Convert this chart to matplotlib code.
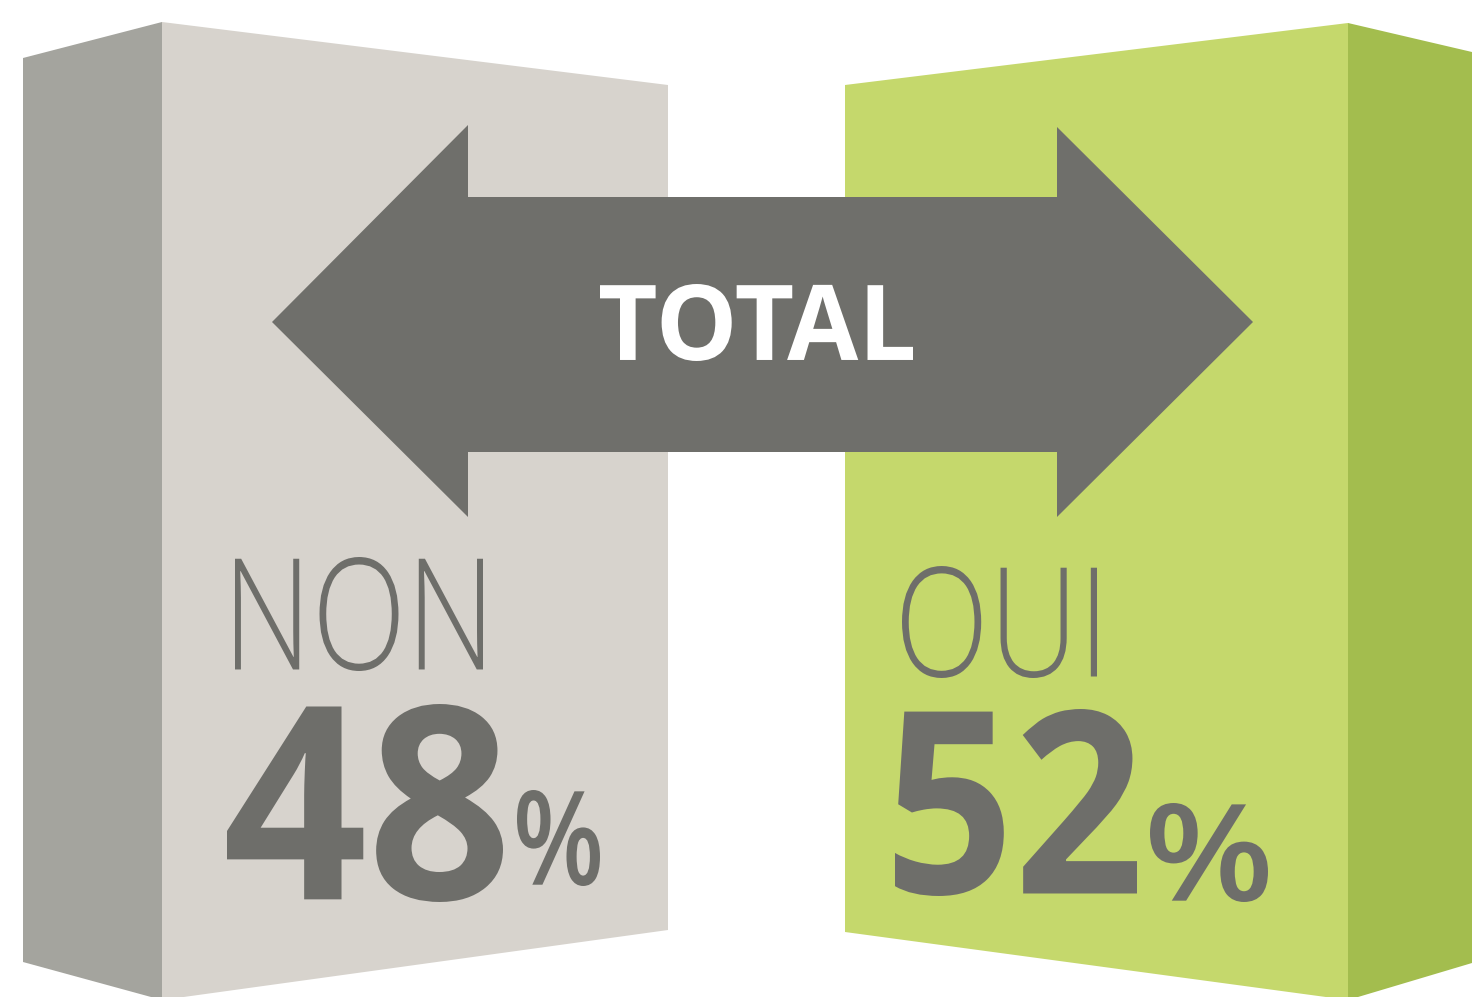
import matplotlib
matplotlib.use("Agg")
import matplotlib.pyplot as plt
from matplotlib.patches import Polygon
from matplotlib.font_manager import FontProperties
from matplotlib.textpath import TextPath
from matplotlib.transforms import Affine2D
from matplotlib import patheffects

# chart data
categories = ["NON", "OUI"]
values = [48, 52]
title = "TOTAL"

# colours
side_cols = ["#a4a49e", "#a3bd4e"]
front_cols = ["#d7d3cd", "#c5d86c"]
arrow_col = "#6f6f6b"
text_col = "#6e6e6a"


class Squeeze(patheffects.AbstractPathEffect):
	# narrows the glyphs horizontally around a fixed x (data coords)
	def __init__(self, ax, sx, xa):
		super().__init__()
		self.ax = ax
		self.sx = sx
		self.xa = xa

	def draw_path(self, renderer, gc, tpath, affine, rgbFace=None):
		a = self.ax.transData.transform((self.xa, 0))[0]
		squeeze = Affine2D().translate(-a, 0).scale(self.sx, 1).translate(a, 0)
		renderer.draw_path(gc, tpath, affine + squeeze, rgbFace)


fig = plt.figure(figsize=(14.72, 9.97), dpi=100)
ax = fig.add_axes([0, 0, 1, 1])
ax.set_xlim(0, 1472)
ax.set_ylim(997, 0)
ax.axis("off")


def place(s, box, weight, color, anchor=0.0, family="Open Sans"):
	# fit the ink of s into box = (left, top, right, bottom) in pixels,
	# squeezing around the point at fraction `anchor` of the width
	x0, y0, x1, y1 = box
	fp = FontProperties(family=family, weight=weight)
	ext = TextPath((0, 0), s, size=100, prop=fp).get_extents()
	scale = (y1 - y0) / ext.height
	wu = ext.width * scale
	sx = (x1 - x0) / wu
	xa = x0 + anchor * (x1 - x0)
	fp.set_size(100 * scale * 72 / fig.dpi)
	ax.text(xa - anchor * wu - ext.x0 * scale, y1 + ext.y0 * scale, s, fontproperties=fp,
			color=color, ha="left", va="baseline", path_effects=[Squeeze(ax, sx, xa)])


# boxes (left: side face on the left, right: side face on the right)
left_side = [(23, 58), (162, 22), (162, 1000), (23, 962)]
left_front = [(162, 22), (668, 85), (668, 930), (162, 1000)]
right_front = [(845, 85), (1348, 23), (1348, 1000), (845, 932)]
right_side = [(1348, 23), (1472, 52), (1472, 963), (1348, 1000)]
for pts, col in [(left_side, side_cols[0]), (left_front, front_cols[0]),
				 (right_front, front_cols[1]), (right_side, side_cols[1])]:
	ax.add_patch(Polygon(pts, closed=True, facecolor=col, edgecolor="none"))

# double arrow
arrow = [(272, 322), (468, 125), (468, 197), (1057, 197), (1057, 127), (1253, 322),
		 (1057, 517), (1057, 452), (468, 452), (468, 517)]
ax.add_patch(Polygon(arrow, closed=True, facecolor=arrow_col, edgecolor="none"))

place(title, (600, 284, 913, 361), "bold", "white", anchor=0.5)

# category names and percentages
name_boxes = [(235, 557, 483, 671), (902, 566, 1097, 678)]
num_boxes = [(227, 704, 503, 902), (895, 709, 1137, 896)]
pct_boxes = [(517, 790, 600, 886), (1150, 803, 1268, 902)]
for i, cat in enumerate(categories):
	place(cat, name_boxes[i], "light", text_col)
	place(f"{values[i]}", num_boxes[i], "bold", text_col, anchor=1.0)
	place("%", pct_boxes[i], "semibold", text_col)

fig.savefig("out.png", dpi=100)
